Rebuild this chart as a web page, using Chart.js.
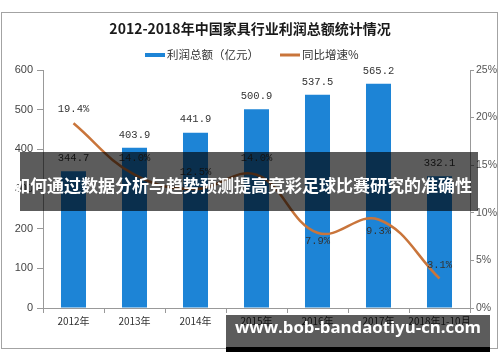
<!DOCTYPE html>
<html><head><meta charset="utf-8">
<script src="https://cdn.jsdelivr.net/npm/chart.js@4/dist/chart.umd.min.js"></script>
<style>
html,body{margin:0;padding:0;background:#fff;}
#wrap{position:relative;width:500px;height:362px;overflow:hidden;background:#fff;}
#frame{position:absolute;left:1px;top:12px;width:497px;height:337px;border:1px solid #a3a3a3;box-sizing:border-box;}
#c{position:absolute;left:0;top:0;}
#band{position:absolute;left:20px;top:152px;width:458px;height:59px;background:rgba(0,0,0,0.64);}
#bandText{position:absolute;left:13px;top:172px;height:28px;line-height:28px;white-space:nowrap;color:#fff;font:bold 17px "Noto Sans CJK SC";}
#badge{position:absolute;left:226px;top:315px;width:264px;height:32px;background:rgba(0,0,0,0.64);}
#strip{position:absolute;left:226px;top:347px;width:264px;height:5px;background:#000;}
#badgeText{position:absolute;left:226px;top:315px;width:264px;height:32px;line-height:32px;text-align:center;white-space:nowrap;color:#fff;font:bold 16.8px "Open Sans";}
</style></head>
<body><div id="wrap">
<div id="frame"></div>
<canvas id="c" width="500" height="362"></canvas>
<div id="band"></div>
<div id="bandText">如何通过数据分析与趋势预测提高竞彩足球比赛研究的准确性</div>
<div id="badge"></div><div id="strip"></div>
<div id="badgeText">www.bob-bandaotiyu-cn.com</div>
</div>
<script>
const categories = ['2012年','2013年','2014年','2015年','2016年','2017年','2018年1-10月'];
const profit = [344.7, 403.9, 441.9, 500.9, 537.5, 565.2, 332.1];
const growth = [19.4, 14.0, 12.5, 14.0, 7.9, 9.3, 3.1];
const leftTicks = [0, 100, 200, 300, 400, 500, 600];
const rightTicks = [0, 5, 10, 15, 20, 25];
const titleText = '2012-2018年中国家具行业利润总额统计情况';
const seriesNames = ['利润总额（亿元）', '同比增速%'];

const BAR_COLOR = '#1d84d6';
const LINE_COLOR = '#c9753b';

const decor = {
  id: 'decor',
  afterDraw(chart) {
    const ctx = chart.ctx;
    ctx.save();
    ctx.fillStyle = '#1a1a1a';
    ctx.font = 'bold 14px "Noto Sans CJK SC"';
    ctx.textAlign = 'center';
    ctx.textBaseline = 'middle';
    ctx.fillText(titleText, 250, 29);
    ctx.font = '11.5px "Noto Sans CJK SC"';
    ctx.textAlign = 'left';
    ctx.fillStyle = BAR_COLOR;
    ctx.fillRect(145, 53, 20, 4);
    ctx.fillStyle = '#333';
    ctx.fillText(seriesNames[0], 167, 55);
    ctx.strokeStyle = LINE_COLOR;
    ctx.lineWidth = 3;
    ctx.beginPath(); ctx.moveTo(280, 55); ctx.lineTo(300, 55); ctx.stroke();
    ctx.fillStyle = '#333';
    ctx.fillText(seriesNames[1], 302, 55);
    ctx.font = '10.5px "Liberation Mono"';
    ctx.textAlign = 'center';
    ctx.fillStyle = '#333';
    chart.getDatasetMeta(0).data.forEach((bar, i) => {
      ctx.fillText(profit[i].toFixed(1), bar.x, bar.y - 13);
    });
    const off = [-14, -17, -17, -17, 8, 12, -13];
    chart.getDatasetMeta(1).data.forEach((pt, i) => {
      ctx.fillText(growth[i].toFixed(1) + '%', pt.x, pt.y + off[i]);
    });
    ctx.restore();
  }
};

new Chart(document.getElementById('c'), {
  data: {
    labels: categories,
    datasets: [
      { type: 'bar', label: seriesNames[0], data: profit, yAxisID: 'y',
        backgroundColor: BAR_COLOR, barPercentage: 0.41, categoryPercentage: 1, order: 2 },
      { type: 'line', label: seriesNames[1], data: growth, yAxisID: 'y1',
        borderColor: LINE_COLOR, borderWidth: 2.5, tension: 0.4, pointRadius: 0, fill: false, order: 1 }
    ]
  },
  options: {
    responsive: false,
    animation: false,
    layout: { padding: { top: 70, left: 0, right: 0, bottom: 0 } },
    plugins: { legend: { display: false }, title: { display: false }, tooltip: { enabled: false } },
    scales: {
      x: {
        afterFit: s => { s.height = 54; },
        grid: { offset: true, drawOnChartArea: false, drawTicks: true, tickLength: 5, color: '#999' },
        border: { display: true, color: '#999' },
        ticks: { padding: 2, color: '#333', font: { family: '"Noto Sans CJK SC"', size: 10 }, maxRotation: 0, autoSkip: false }
      },
      y: {
        position: 'left', min: 0, max: 600,
        afterFit: s => { s.width = 43; },
        afterBuildTicks: s => { s.ticks = leftTicks.map(v => ({ value: v })); },
        grid: { drawOnChartArea: false, tickLength: 6, color: '#999' },
        border: { display: true, color: '#999' },
        ticks: { padding: 4, color: '#444', font: { family: 'Liberation Sans', size: 11 } }
      },
      y1: {
        position: 'right', min: 0, max: 25,
        afterFit: s => { s.width = 30; },
        afterBuildTicks: s => { s.ticks = rightTicks.map(v => ({ value: v })); },
        grid: { drawOnChartArea: false, tickLength: 4, color: '#999' },
        border: { display: true, color: '#999' },
        ticks: { padding: 2, color: '#555', font: { family: 'Liberation Sans', size: 10.5 }, callback: v => v + '%' }
      }
    }
  },
  plugins: [decor]
});
</script>
</body></html>
